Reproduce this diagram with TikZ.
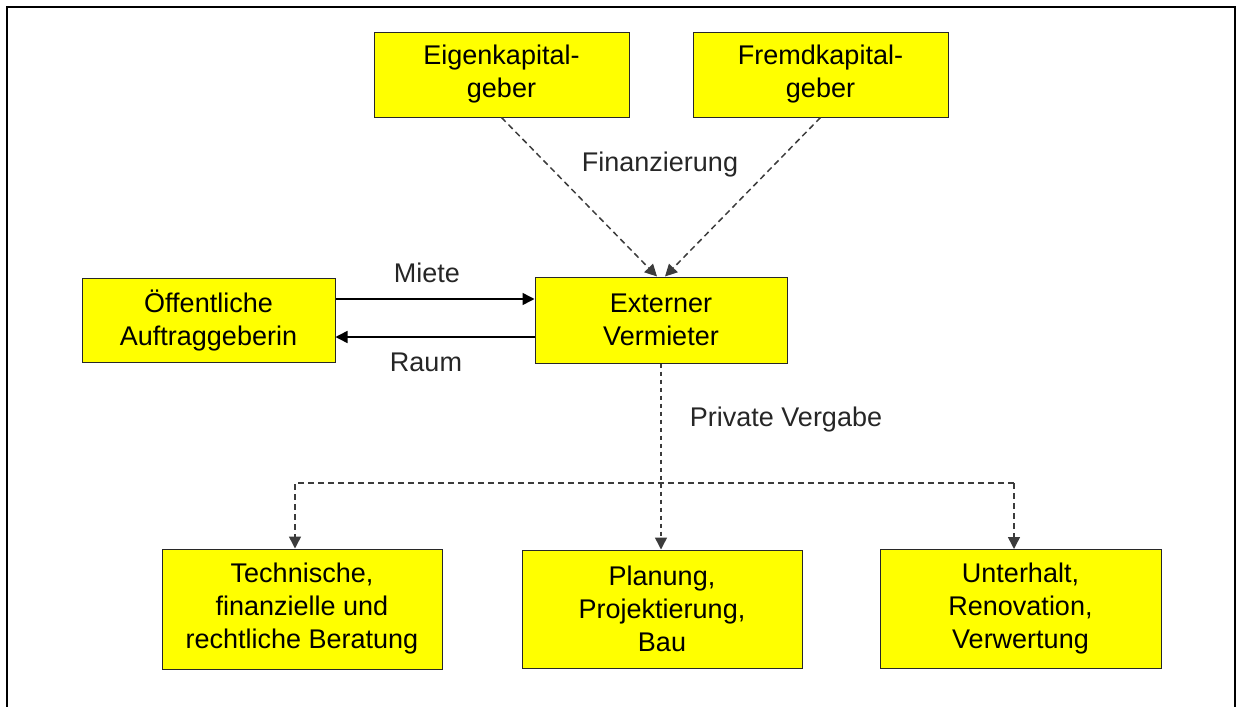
\documentclass[tikz,border=0pt]{standalone}
\usepackage{fontspec}
\setmainfont{Liberation Sans}
\usetikzlibrary{arrows.meta}
\definecolor{gelb}{RGB}{255,255,0}
\definecolor{rand}{RGB}{40,40,40}
\definecolor{strich}{RGB}{60,60,60}

\begin{document}
\begin{tikzpicture}[x=0.5pt, y=-0.5pt,
    font=\fontsize{13.5pt}{16.5pt}\selectfont,
    block/.style={draw=rand, line width=0.5pt, fill=gelb, align=center, inner sep=0pt},
    lbl/.style={anchor=base, text=black!85},
    pfeil/.style={line width=0.75pt, -{Triangle[length=6pt, width=6pt]}},
    strichpfeil/.style={pfeil, strich, dash pattern=on 3pt off 2pt}]
            \useasboundingbox (0,0) rectangle (1239,707);
            \draw[line width=0.9pt] (7,707) -- (7,7) -- (1235,7) -- (1235,707);

            % Kapitalgeber
            \node[block, minimum width=127.5pt, minimum height=42.5pt] (eigen) at (501.5,74.5) {Eigenkapital-\\geber};
            \node[block, minimum width=127.5pt, minimum height=42.5pt] (fremd) at (820.5,74.5) {Fremdkapital-\\geber};

            % Mitte
            \node[block, minimum width=126.5pt, minimum height=42pt] (oeff) at (208.5,320) {Öffentliche\\Auftraggeberin};
            \node[block, minimum width=126pt, minimum height=43pt] (verm) at (661,320) {Externer\\Vermieter};

            % Vergabe
            \node[block, minimum width=140pt, minimum height=60pt] (tech) at (302,609) {Technische,\\finanzielle und\\rechtliche Beratung};
            \node[block, minimum width=140pt, minimum height=59pt] (plan) at (662,609) {Planung,\\Projektierung,\\Bau};
            \node[block, minimum width=140.5pt, minimum height=59.5pt] (unter) at (1020.5,609) {Unterhalt,\\Renovation,\\Verwertung};

            \draw[strichpfeil] (eigen.south) -- ([xshift=-2pt]verm.north);
            \draw[strichpfeil] (fremd.south) -- ([xshift=2pt]verm.north);
            \node[lbl] (finanz) at (660,171.5) {Finanzierung};

            \draw[pfeil] ([yshift=10.5pt]oeff.east) -- ([yshift=10.5pt]verm.west);
            \draw[pfeil] ([yshift=-8.5pt]verm.west) -- ([yshift=-8.5pt]oeff.east);
            \node[lbl] (miete) at (427,282) {Miete};
            \node[lbl] (raum) at (426,371.5) {Raum};

            \coordinate (links) at (295,483);
            \coordinate (rechts) at (1014,483);
            \draw[strichpfeil, dash pattern=on 2pt off 2pt] (verm.south) -- (verm.south |- plan.north);
            \node[lbl] (privat) at (786,426.5) {Private Vergabe};
            \draw[strichpfeil] (rechts) -- (links) -- (links |- tech.north);
            \draw[strichpfeil] (rechts) -- (rechts |- unter.north);
        \end{tikzpicture}
\end{document}
